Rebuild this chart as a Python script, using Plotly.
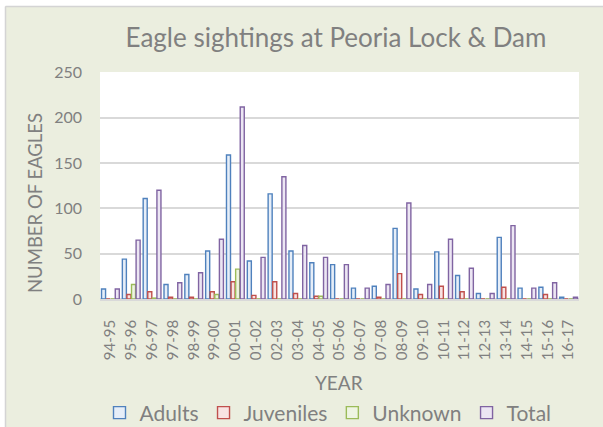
import plotly.graph_objects as go

years = ["94-95", "95-96", "96-97", "97-98", "98-99", "99-00", "00-01", "01-02",
         "02-03", "03-04", "04-05", "05-06", "06-07", "07-08", "08-09", "09-10",
         "10-11", "11-12", "12-13", "13-14", "14-15", "15-16", "16-17"]
adults = [11, 44, 111, 16, 27, 53, 159, 42, 116, 53, 40, 38, 12, 14, 78, 11, 52, 26, 6, 68, 12, 13, 2]
juveniles = [0, 5, 8, 2, 2, 8, 19, 4, 19, 6, 3, 0, 0, 2, 28, 5, 14, 8, 0, 13, 0, 5, 0]
unknown = [0, 16, 1, 0, 0, 5, 33, 0, 0, 0, 3, 0, 0, 0, 0, 0, 0, 0, 0, 0, 0, 0, 0]
total = [11, 65, 120, 18, 29, 66, 212, 46, 135, 59, 46, 38, 12, 16, 106, 16, 66, 34, 6, 81, 12, 18, 2]

series = [
    ("Adults", adults, "#4F81BD", "#E6EEF8"),
    ("Juveniles", juveniles, "#C0504D", "#F8E4E3"),
    ("Unknown", unknown, "#9BBB59", "#EEF4E2"),
    ("Total", total, "#8064A2", "#ECE6F3"),
]

FONT = "Lato"
GRAY = "#808080"

fig = go.Figure()
for name, vals, line, fill in series:
    fig.add_trace(go.Bar(
        x=years, y=vals, name=name,
        marker=dict(color=fill, line=dict(color=line, width=1.4)),
    ))

W, H = 603, 427
L, R, T, B = 100, 24, 72, 128
pw, ph = W - L - R, H - T - B


def px_x(p):
    return (p - L) / pw


def px_y(p):
    return (H - B - p) / ph


shapes = [
    dict(type="rect", xref="paper", yref="paper", x0=px_x(-2), x1=px_x(5), y0=px_y(H + 2), y1=px_y(-2),
         fillcolor="white", line=dict(width=0), layer="above"),
    dict(type="rect", xref="paper", yref="paper", x0=px_x(-2), x1=px_x(W + 2), y0=px_y(6), y1=px_y(-2),
         fillcolor="white", line=dict(width=0), layer="above"),
    dict(type="line", xref="paper", yref="paper", x0=px_x(5.5), x1=px_x(5.5), y0=px_y(H + 2), y1=px_y(6.5),
         line=dict(color="#D4D4D4", width=1.5), layer="above"),
    dict(type="line", xref="paper", yref="paper", x0=px_x(5.5), x1=px_x(W + 2), y0=px_y(6.5), y1=px_y(6.5),
         line=dict(color="#D4D4D4", width=1.5), layer="above"),
]

fig.update_layout(
    width=W, height=H,
    margin=dict(l=L, r=R, t=T, b=B, autoexpand=False),
    paper_bgcolor="#EBEEDF",
    plot_bgcolor="white",
    barmode="group",
    bargap=0.12,
    bargroupgap=0.12,
    font=dict(family=FONT, color=GRAY),
    title=dict(text="Eagle sightings at Peoria Lock & Dam", xref="container", x=336 / W, xanchor="center",
               y=1 - 38 / H, yanchor="middle", font=dict(size=26, color=GRAY, family=FONT)),
    xaxis=dict(
        type="category", tickangle=-90, tickfont=dict(size=15, color=GRAY),
        showgrid=False, ticks="", ticklabelstandoff=13,
        showline=True, linecolor="#D9D9D9", linewidth=1.5,
        title=None, automargin=False,
    ),
    yaxis=dict(
        range=[0, 250.6], tickvals=[0, 50, 100, 150, 200, 250],
        tickfont=dict(size=16, color=GRAY), ticks="", ticklabelstandoff=17,
        showgrid=True, gridcolor="#D9D9D9", gridwidth=1.5,
        zeroline=True, zerolinecolor="#D9D9D9", zerolinewidth=1.5,
        title=None, automargin=False,
    ),
    legend=dict(orientation="h", x=px_x(328), xanchor="center", y=px_y(413), yanchor="middle",
                font=dict(size=21, color=GRAY), bgcolor="rgba(0,0,0,0)", traceorder="normal"),
    annotations=[
        dict(text="NUMBER OF EAGLES", xref="paper", yref="paper", x=px_x(35), y=px_y(203),
             textangle=-90, showarrow=False, font=dict(size=18.5, color=GRAY, family=FONT),
             xanchor="center", yanchor="middle"),
        dict(text="YEAR", xref="paper", yref="paper", x=px_x(339), y=px_y(382),
             showarrow=False, font=dict(size=19, color=GRAY, family=FONT),
             xanchor="center", yanchor="middle"),
    ],
    shapes=shapes,
)

fig.write_html("out.html", config={"displayModeBar": False},
               post_script="document.body.style.margin='0';document.body.style.overflow='hidden';")
